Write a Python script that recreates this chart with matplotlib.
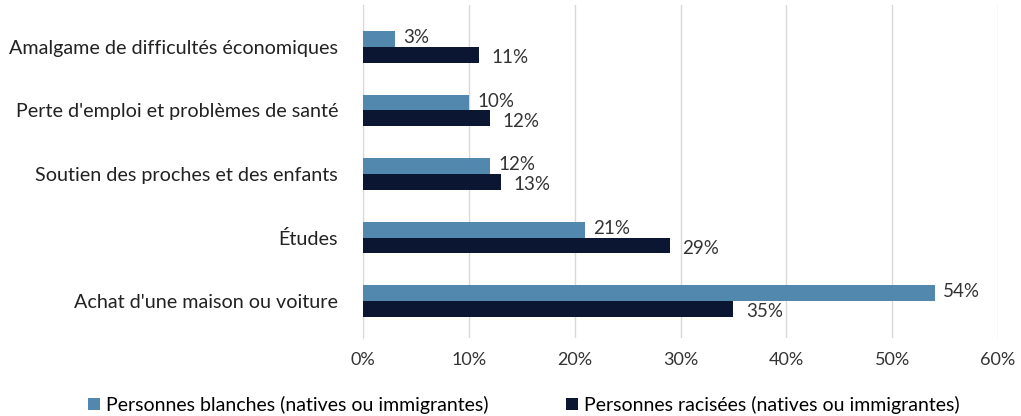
import numpy as np
import matplotlib.pyplot as plt

categories = ["Amalgame de difficultés économiques",
              "Perte d'emploi et problèmes de santé",
              "Soutien des proches et des enfants",
              "Études",
              "Achat d'une maison ou voiture"]
blanches = [3, 10, 12, 21, 54]
racisees = [11, 12, 13, 29, 35]
series_names = ["Personnes blanches (natives ou immigrantes)",
                "Personnes racisées (natives ou immigrantes)"]

plt.rcParams['font.family'] = ['Lato', 'DejaVu Sans']

fig = plt.figure(figsize=(10.21, 4.16), dpi=100)
ax = fig.add_axes([363/1021, 1 - 338/416, (998 - 363)/1021, 333/416])

y = np.arange(len(categories))
h = 0.25
c1 = '#5288ad'
c2 = '#0b1633'
b1 = ax.barh(y - h/2, blanches, height=h, color=c1, label=series_names[0], zorder=3)
b2 = ax.barh(y + h/2, racisees, height=h, color=c2, label=series_names[1], zorder=3)

for yi, v in zip(y, blanches):
    ax.annotate(f"{v}%", (v, yi - h/2), xytext=(6, 1), textcoords='offset points',
                va='center', ha='left', fontsize=13.5, color='#333333')
for yi, v in zip(y, racisees):
    ax.annotate(f"{v}%", (v, yi + h/2), xytext=(9, -2), textcoords='offset points',
                va='center', ha='left', fontsize=13.5, color='#333333')

ax.set_ylim(4.58, -0.66)
ax.set_xlim(0, 60)
ax.set_xticks(range(0, 61, 10))
ax.set_xticklabels([f"{t}%" for t in range(0, 61, 10)], fontsize=13, color='#333333')
ax.set_yticks(y)
ax.set_yticklabels(categories, fontsize=14.2, color='#222222')
ax.tick_params(length=0, pad=10)
ax.tick_params(axis='y', pad=18)
ax.grid(axis='x', color='#d9d9d9', linewidth=1, zorder=0)
for s in ['top', 'right', 'bottom']:
    ax.spines[s].set_visible(False)
ax.spines['left'].set_color('#d9d9d9')

fig.legend(handles=[b1, b2], loc='center', bbox_to_anchor=(0.513, 1 - 405/416),
           ncol=2, frameon=False, fontsize=14, handlelength=0.6, handleheight=0.6,
           handletextpad=0.3, columnspacing=4)

fig.savefig('out.png', dpi=100)
